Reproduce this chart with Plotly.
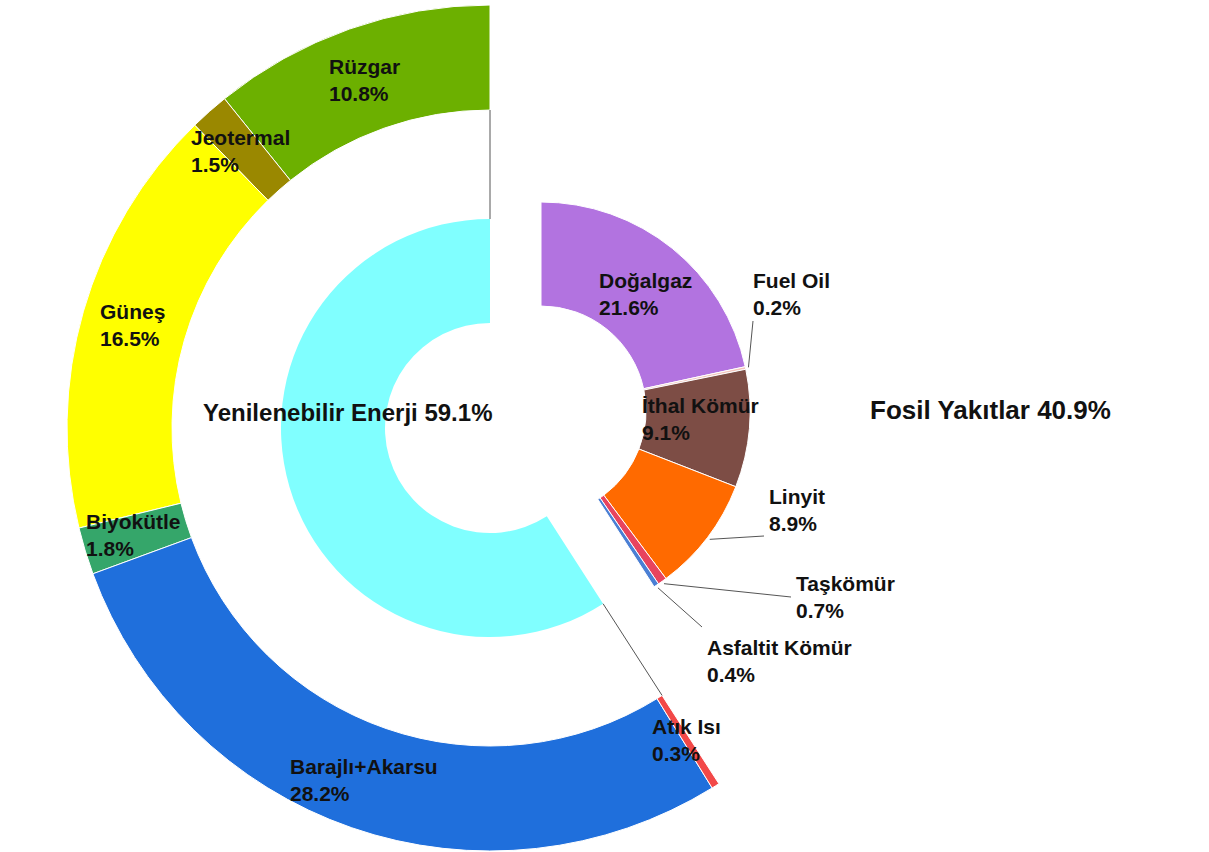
import math
import plotly.graph_objects as go

W, H = 1209, 852

# renewable sources (outer ring, counter-clockwise from 12 o'clock)
ren_labels = ["Rüzgar", "Jeotermal", "Güneş", "Biyokütle", "Barajlı+Akarsu", "Atık Isı"]
ren_values = [10.8, 1.5, 16.5, 1.8, 28.2, 0.3]
ren_colors = ["#6cb000", "#9a8800", "#ffff00", "#35a66a", "#1f6fdc", "#f24848"]

# fossil sources (pulled-out ring, clockwise from 12 o'clock)
fos_labels = ["Doğalgaz", "Fuel Oil", "İthal Kömür", "Linyit", "Taşkömür", "Asfaltit Kömür"]
fos_values = [21.6, 0.2, 9.1, 8.9, 0.7, 0.4]
fos_colors = ["#b273e0", "#f3c4bc", "#7d4d45", "#ff6a00", "#e8445e", "#4a7fd4"]

# groups
group_labels = ["Yenilenebilir Enerji", "Fosil Yakıtlar"]
group_values = [59.1, 40.9]
group_color = "#80ffff"

# geometry (pixels)
CX, CY = 490, 428
R_OUT, R_OUT_IN = 423, 318
R_IN, R_IN_HOLE = 209, 105
FX, FY = 541, 411

CLEAR = "rgba(0,0,0,0)"
FONT = "Liberation Sans, Arial, sans-serif"


def dom(cx, cy, r):
    return dict(x=[(cx - r) / W, (cx + r) / W], y=[1 - (cy + r) / H, 1 - (cy - r) / H])


def polar(cx, cy, r, frac):
    # frac of full turn, clockwise from 12 o'clock
    a = frac * 2 * math.pi
    return cx + r * math.sin(a), cy - r * math.cos(a)


def px(x, y):
    return x / W, 1 - y / H


total = sum(group_values)
fig = go.Figure()

# plotly starts a counter-clockwise pie at rotation + first slice, so shift back
ren_all = ren_values + [group_values[1]]
fig.add_trace(go.Pie(
    values=ren_all,
    labels=ren_labels + ["_fosil"],
    marker=dict(colors=ren_colors + [CLEAR],
                line=dict(color=["#ffffff"] * len(ren_values) + [CLEAR],
                          width=[1] * len(ren_values) + [0])),
    hole=R_OUT_IN / R_OUT, sort=False, direction="counterclockwise",
    rotation=-360 * ren_all[0] / sum(ren_all),
    textinfo="none", hoverinfo="skip", showlegend=False,
    domain=dom(CX, CY, R_OUT),
))

fig.add_trace(go.Pie(
    values=group_values,
    labels=group_labels,
    marker=dict(colors=[group_color, CLEAR], line=dict(width=0)),
    hole=R_IN_HOLE / R_IN, sort=False, direction="counterclockwise",
    rotation=-360 * group_values[0] / total,
    textinfo="none", hoverinfo="skip", showlegend=False,
    domain=dom(CX, CY, R_IN),
))

fig.add_trace(go.Pie(
    values=fos_values + [group_values[0]],
    labels=fos_labels + ["_yenilenebilir"],
    marker=dict(colors=fos_colors + [CLEAR],
                line=dict(color=["#ffffff"] * len(fos_values) + [CLEAR],
                          width=[1] * len(fos_values) + [0])),
    hole=R_IN_HOLE / R_IN, sort=False, direction="clockwise", rotation=0,
    textinfo="none", hoverinfo="skip", showlegend=False,
    domain=dom(FX, FY, R_IN),
))

# label placement (pixel centres / left edges)
inside_pos = {
    "Rüzgar": (364, 80),
    "Jeotermal": (240, 151),
    "Güneş": (132, 325),
    "Biyokütle": (133, 535),
    "Barajlı+Akarsu": (364, 780),
    "Atık Isı": (686, 740),
    "Doğalgaz": (645, 294),
    "İthal Kömür": (700, 419),
}
outside_pos = {
    "Fuel Oil": ((751, 294), (753, 321)),
    "Linyit": ((767, 510), (764, 536)),
    "Taşkömür": ((794, 597), (791, 597)),
    "Asfaltit Kömür": ((705, 661), (702, 627)),
}

annotations = []
shapes = []
all_vals = dict(zip(ren_labels, ren_values))
all_vals.update(zip(fos_labels, fos_values))

for name, (x, y) in inside_pos.items():
    xp, yp = px(x, y)
    annotations.append(dict(
        x=xp, y=yp, xref="paper", yref="paper", xanchor="center", yanchor="middle",
        align="left", showarrow=False,
        text=f"{name}<br>{all_vals[name]:.1f}%",
        font=dict(family=FONT, size=21, color="#111111", weight="bold"),
    ))

cum = 0
for name, v in zip(fos_labels, fos_values):
    mid = (cum + v / 2) / total
    cum += v
    if name not in outside_pos:
        continue
    (tx, ty), (ex, ey) = outside_pos[name]
    sx, sy = polar(FX, FY, R_IN + 3, mid)
    xp, yp = px(tx, ty)
    annotations.append(dict(
        x=xp, y=yp, xref="paper", yref="paper", xanchor="left", yanchor="middle",
        align="left", showarrow=False,
        text=f"{name}<br>{v:.1f}%",
        font=dict(family=FONT, size=21, color="#111111", weight="bold"),
    ))
    x0, y0 = px(sx, sy)
    x1, y1 = px(ex, ey)
    shapes.append(dict(type="line", xref="paper", yref="paper", x0=x0, y0=y0, x1=x1, y1=y1,
                       line=dict(color="#555555", width=1)))

# connectors between the group ring and the renewable ring
for frac in [0, -group_values[0] / total]:
    x0, y0 = px(*polar(CX, CY, R_IN, frac))
    x1, y1 = px(*polar(CX, CY, R_OUT_IN, frac))
    shapes.append(dict(type="line", xref="paper", yref="paper", x0=x0, y0=y0, x1=x1, y1=y1,
                       line=dict(color="#555555", width=1)))

xp, yp = px(347, 412)
annotations.append(dict(
    x=xp, y=yp, xref="paper", yref="paper", xanchor="center", yanchor="middle",
    showarrow=False, text=f"{group_labels[0]} {group_values[0]:.1f}%",
    font=dict(family=FONT, size=24, color="#111111", weight="bold"),
))
xp, yp = px(990, 410)
annotations.append(dict(
    x=xp, y=yp, xref="paper", yref="paper", xanchor="center", yanchor="middle",
    showarrow=False, text=f"{group_labels[1]} {group_values[1]:.1f}%",
    font=dict(family=FONT, size=26, color="#111111", weight="bold"),
))

fig.update_layout(
    width=W, height=H,
    margin=dict(l=0, r=0, t=0, b=0),
    paper_bgcolor="white", plot_bgcolor="white",
    annotations=annotations, shapes=shapes,
    showlegend=False,
)

# drop the browser's default body margin so the figure sits at (0, 0)
fig.write_html(
    "out.html",
    config=dict(displayModeBar=False),
    post_script="document.body.style.margin='0';document.body.style.overflow='hidden';",
)
